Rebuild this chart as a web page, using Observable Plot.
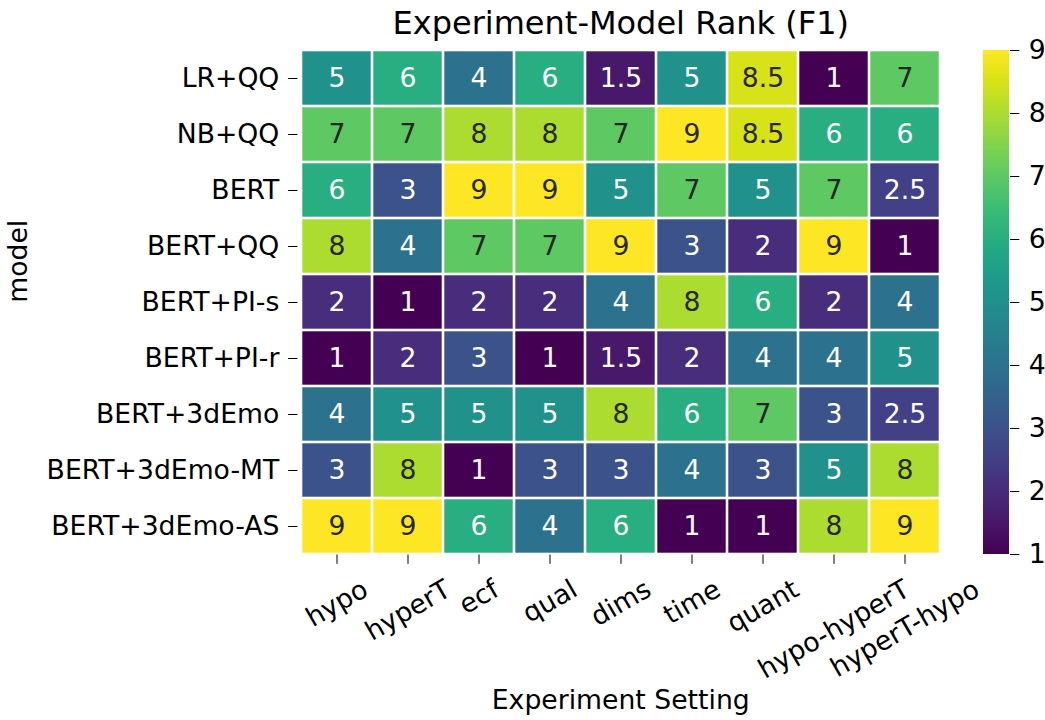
<!DOCTYPE html>
<html>
<head>
<meta charset="utf-8">
<script src="https://cdn.jsdelivr.net/npm/d3@7"></script>
<script src="https://cdn.jsdelivr.net/npm/@observablehq/plot@0.6"></script>
<style>
  html, body { margin: 0; padding: 0; background: #fff; }
  #wrap { position: relative; width: 1045px; height: 720px; font-family: "DejaVu Sans", sans-serif; }
  #wrap svg { position: absolute; top: 0; }
</style>
</head>
<body>
<div id="wrap"></div>
<script>
const title = "Experiment-Model Rank (F1)";
const xTitle = "Experiment Setting";
const yTitle = "model";
const settings = ["hypo", "hyperT", "ecf", "qual", "dims", "time", "quant", "hypo-hyperT", "hyperT-hypo"];
const models = ["LR+QQ", "NB+QQ", "BERT", "BERT+QQ", "BERT+PI-s", "BERT+PI-r", "BERT+3dEmo", "BERT+3dEmo-MT", "BERT+3dEmo-AS"];
const rankLRQQ        = [5, 6, 4, 6, 1.5, 5, 8.5, 1, 7];
const rankNBQQ        = [7, 7, 8, 8, 7, 9, 8.5, 6, 6];
const rankBERT        = [6, 3, 9, 9, 5, 7, 5, 7, 2.5];
const rankBERTQQ      = [8, 4, 7, 7, 9, 3, 2, 9, 1];
const rankBERTPIs     = [2, 1, 2, 2, 4, 8, 6, 2, 4];
const rankBERTPIr     = [1, 2, 3, 1, 1.5, 2, 4, 4, 5];
const rankBERT3dEmo   = [4, 5, 5, 5, 8, 6, 7, 3, 2.5];
const rankBERT3dEmoMT = [3, 8, 1, 3, 3, 4, 3, 5, 8];
const rankBERT3dEmoAS = [9, 9, 6, 4, 6, 1, 1, 8, 9];
const colorTicks = [1, 2, 3, 4, 5, 6, 7, 8, 9];

const rows = [rankLRQQ, rankNBQQ, rankBERT, rankBERTQQ, rankBERTPIs, rankBERTPIr, rankBERT3dEmo, rankBERT3dEmoMT, rankBERT3dEmoAS];
const table = [];
models.forEach((m, i) => settings.forEach((s, j) => table.push({model: m, setting: s, value: rows[i][j]})));

const FONT = "DejaVu Sans";
const FS = 26.67;
const TICK = 9.33;
const W = 1045, H = 720;
const mL = 297.5, mR = 102, mT = 50, mB = 165.5;

const colorScale = {type: "linear", scheme: "viridis", domain: [1, 9]};
const interp = d3.interpolateViridis;
function lum(v) {
  const c = d3.rgb(interp((v - 1) / 8));
  const f = x => { x /= 255; return x <= 0.03928 ? x / 12.92 : Math.pow((x + 0.055) / 1.055, 2.4); };
  return 0.2126 * f(c.r) + 0.7152 * f(c.g) + 0.0722 * f(c.b);
}
const textColor = d => lum(d.value) > 0.408 ? "#262626" : "#ffffff";

const ctx = document.createElement("canvas").getContext("2d");
ctx.font = `${FS}px "${FONT}"`;
const lineH = FS * 1.17;
const labelMarks = settings.map(s => {
  const w = ctx.measureText(s).width;
  const bboxH = w * Math.sin(Math.PI / 6) + lineH * Math.cos(Math.PI / 6);
  return Plot.text([s], {
    x: d => d, frameAnchor: "bottom", dy: TICK + 9.33 + bboxH / 2,
    rotate: -30, textAnchor: "middle", lineAnchor: "middle",
    fontSize: FS, fill: "#000"
  });
});

const main = Plot.plot({
  width: W, height: H,
  marginLeft: mL, marginRight: mR, marginTop: mT, marginBottom: mB,
  style: {fontFamily: FONT, fontSize: FS + "px", color: "#000", background: "transparent"},
  x: {type: "band", domain: settings, padding: 0, axis: null},
  y: {type: "band", domain: models, padding: 0, axis: null},
  color: colorScale,
  marks: [
    Plot.cell(table, {x: "setting", y: "model", fill: "value", inset: 1.3}),
    Plot.text(table, {x: "setting", y: "model", text: d => String(d.value), fill: textColor, fontSize: FS}),
    Plot.axisY({tickSize: TICK, tickPadding: 9.33, fontSize: FS, label: null, stroke: "#000", color: "#000"}),
    Plot.axisX({tickSize: TICK, tickFormat: () => "", label: null, stroke: "#000"}),
    ...labelMarks,
    Plot.text([title], {frameAnchor: "top", dy: -27, lineAnchor: "middle", fontSize: 32, fill: "#000"}),
    Plot.text([xTitle], {frameAnchor: "bottom", dy: 145.5, lineAnchor: "middle", fontSize: FS, fill: "#000"}),
    Plot.text([yTitle], {frameAnchor: "left", dx: -279.5, rotate: -90, lineAnchor: "middle", fontSize: FS, fill: "#000"})
  ]
});
main.style.left = "0px";
document.getElementById("wrap").appendChild(main);

const steps = d3.range(0, 256);
const cb = Plot.plot({
  width: 62, height: H,
  marginLeft: 0, marginRight: 36, marginTop: mT, marginBottom: 166,
  style: {fontFamily: FONT, fontSize: FS + "px", color: "#000", background: "transparent", overflow: "visible"},
  x: {domain: [0, 1], axis: null},
  y: {domain: [1, 9], axis: null},
  color: colorScale,
  marks: [
    Plot.rect(steps, {
      x1: 0, x2: 1,
      y1: i => 1 + 8 * i / 256,
      y2: i => Math.min(9, 1 + 8 * (i + 1.6) / 256),
      fill: i => 1 + 8 * (i + 0.5) / 256
    }),
    Plot.axisY({anchor: "right", ticks: colorTicks, tickSize: TICK, tickPadding: 10, fontSize: FS, label: null, stroke: "#000", color: "#000", tickFormat: d => String(d)})
  ]
});
cb.style.left = "983px";
document.getElementById("wrap").appendChild(cb);
</script>
</body>
</html>
